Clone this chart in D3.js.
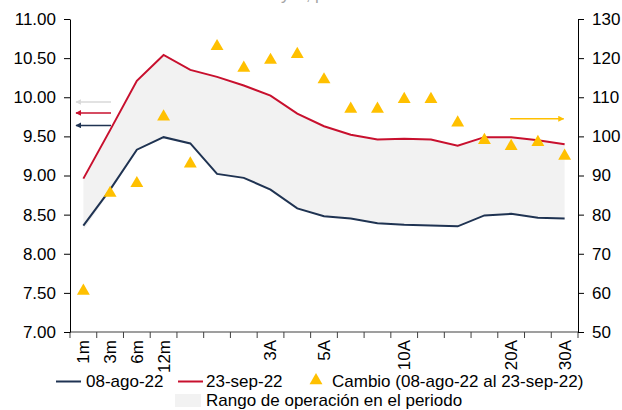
<!DOCTYPE html>
<html>
<head>
<meta charset="UTF-8">
<script src="https://cdn.jsdelivr.net/npm/d3@7"></script>
<style>
  body { margin: 0; background: #fff; }
  svg { font-family: "Liberation Sans", Arial, sans-serif; }
  .axis text { font-size: 17px; fill: #000; }
  .legend text { font-size: 17px; fill: #000; }
</style>
</head>
<body>
<svg width="622" height="410"></svg>
<script>
// plazos (las etiquetas vacias no se muestran en el eje)
var plazos = ["1m","3m","6m","12m","","","","3A","","5A","","","10A","","","","20A","","30A"];

// rendimientos, % (eje izq.)
var ago08 = [8.36, 8.82, 9.33, 9.49, 9.41, 9.02, 8.97, 8.82, 8.58, 8.48, 8.45, 8.39, 8.37, 8.36, 8.35, 8.49, 8.51, 8.46, 8.45];
var sep23 = [8.96, 9.58, 10.21, 10.54, 10.35, 10.26, 10.15, 10.02, 9.79, 9.63, 9.52, 9.46, 9.47, 9.46, 9.38, 9.49, 9.49, 9.45, 9.40];

// rango de operacion en el periodo, %
var rangoMin = [8.30, 8.80, 9.32, 9.49, 9.41, 9.02, 8.97, 8.82, 8.58, 8.48, 8.45, 8.39, 8.37, 8.36, 8.35, 8.49, 8.51, 8.46, 8.45];
var rangoMax = [8.96, 9.58, 10.21, 10.54, 10.35, 10.26, 10.15, 10.02, 9.79, 9.63, 9.52, 9.46, 9.47, 9.46, 9.38, 9.49, 9.49, 9.45, 9.40];

// cambio, pb (eje der.)
var cambio = [60.5, 85.5, 88.0, 105.0, 93.0, 123.0, 117.5, 119.5, 121.0, 114.5, 107.0, 107.0, 109.5, 109.5, 103.5, 99.0, 97.5, 98.5, 95.0];

var ticksIzq = [7, 7.5, 8, 8.5, 9, 9.5, 10, 10.5, 11];
var ticksDer = [50, 60, 70, 80, 90, 100, 110, 120, 130];

var cNavy = "#1f3352", cRojo = "#c8102e", cAmarillo = "#ffc000", cGris = "#f2f2f2";

var svg = d3.select("svg");
var mIzq = 70, mDer = 578, mSup = 19, mInf = 332;

var x = d3.scaleBand().domain(d3.range(plazos.length)).range([mIzq, mDer]);
var yL = d3.scaleLinear().domain([7, 11]).range([mInf, mSup]);
var yR = d3.scaleLinear().domain([50, 130]).range([mInf, mSup]);
var cx = function(i) { return x(i) + x.bandwidth() / 2; };

// titulo (cortado en la parte superior)
svg.append("text")
  .attr("x", 334).attr("y", 0)
  .attr("text-anchor", "end")
  .attr("font-size", "17px")
  .attr("fill", "#a6a6a6")
  .text("Curva de rendimiento en % y \u0394, pb");

// rango
var area = d3.area()
  .x(function(d, i) { return cx(i); })
  .y0(function(d, i) { return yL(rangoMin[i]); })
  .y1(function(d, i) { return yL(rangoMax[i]); });
svg.append("path").datum(plazos).attr("d", area).attr("fill", cGris);

// lineas
var linea = d3.line().x(function(d, i) { return cx(i); }).y(function(d) { return yL(d); });
svg.append("path").datum(ago08).attr("d", linea)
  .attr("fill", "none").attr("stroke", cNavy).attr("stroke-width", 2);
svg.append("path").datum(sep23).attr("d", linea)
  .attr("fill", "none").attr("stroke", cRojo).attr("stroke-width", 2);

// triangulos
var tri = d3.symbol().type(d3.symbolTriangle).size(72);
svg.append("g").selectAll("path")
  .data(cambio)
  .enter().append("path")
  .attr("d", tri)
  .attr("transform", function(d, i) { return "translate(" + cx(i) + "," + yR(d) + ")"; })
  .attr("fill", cAmarillo);

// ejes
var gx = svg.append("g").attr("class", "axis")
  .attr("transform", "translate(0," + mInf + ")");
gx.append("line").attr("x1", mIzq).attr("x2", mDer).attr("stroke", "#7f7f7f").attr("stroke-width", 1.3);
gx.selectAll(".tk").data(d3.range(plazos.length + 1)).enter().append("line")
  .attr("x1", function(i) { return mIzq + i * x.bandwidth(); })
  .attr("x2", function(i) { return mIzq + i * x.bandwidth(); })
  .attr("y1", 0).attr("y2", 6)
  .attr("stroke", "#404040");
gx.selectAll(".lbl").data(plazos).enter().append("text")
  .attr("transform", function(d, i) { return "translate(" + cx(i) + ",8) rotate(-90)"; })
  .attr("text-anchor", "end")
  .attr("dy", "0.35em")
  .text(function(d) { return d; });

svg.append("g").attr("class", "axis")
  .attr("transform", "translate(" + mIzq + ",0)")
  .call(d3.axisLeft(yL).tickValues(ticksIzq).tickFormat(d3.format(".2f")).tickSizeOuter(0).tickPadding(8))
  .call(function(g) { g.select(".domain").attr("stroke", "#000"); g.selectAll(".tick line").attr("stroke", "#000"); });

svg.append("g").attr("class", "axis")
  .attr("transform", "translate(" + mDer + ",0)")
  .call(d3.axisRight(yR).tickValues(ticksDer).tickSizeOuter(0).tickPadding(8))
  .call(function(g) { g.select(".domain").attr("stroke", "#000"); g.selectAll(".tick line").attr("stroke", "#000"); });

// flechas que indican el eje
var defs = svg.append("defs");
function punta(id, color) {
  defs.append("marker").attr("id", id)
    .attr("viewBox", "0 0 10 10").attr("refX", 9).attr("refY", 5)
    .attr("markerWidth", 4).attr("markerHeight", 4).attr("orient", "auto-start-reverse")
    .append("path").attr("d", "M0,0L10,5L0,10z").attr("fill", color);
}
punta("pGris", "#d9d9d9"); punta("pRojo", cRojo); punta("pNavy", cNavy); punta("pAmar", cAmarillo);

var flechasIzq = [[9.94, "#d9d9d9", "pGris"], [9.80, cRojo, "pRojo"], [9.64, cNavy, "pNavy"]];
flechasIzq.forEach(function(f) {
  svg.append("line")
    .attr("x1", mIzq + 41).attr("x2", mIzq + 6)
    .attr("y1", yL(f[0])).attr("y2", yL(f[0]))
    .attr("stroke", f[1]).attr("stroke-width", 1.5)
    .attr("marker-end", "url(#" + f[2] + ")");
});
svg.append("line")
  .attr("x1", cx(16) - 1).attr("x2", cx(18) - 1)
  .attr("y1", yR(104.5)).attr("y2", yR(104.5))
  .attr("stroke", cAmarillo).attr("stroke-width", 1.5)
  .attr("marker-end", "url(#pAmar)");

// leyenda
var ley = svg.append("g").attr("class", "legend");
ley.append("line").attr("x1", 56).attr("x2", 81).attr("y1", 381.5).attr("y2", 381.5).attr("stroke", cNavy).attr("stroke-width", 2);
ley.append("text").attr("x", 86).attr("y", 381.5).attr("dy", "0.35em").text("08-ago-22");
ley.append("line").attr("x1", 178).attr("x2", 203).attr("y1", 381.5).attr("y2", 381.5).attr("stroke", cRojo).attr("stroke-width", 2);
ley.append("text").attr("x", 206).attr("y", 381.5).attr("dy", "0.35em").text("23-sep-22");
ley.append("path").attr("d", tri).attr("transform", "translate(316,380.5)").attr("fill", cAmarillo);
ley.append("text").attr("x", 332).attr("y", 381.5).attr("dy", "0.35em").text("Cambio (08-ago-22 al 23-sep-22)");
ley.append("rect").attr("x", 175).attr("y", 394).attr("width", 26).attr("height", 13).attr("fill", cGris);
ley.append("text").attr("x", 206).attr("y", 400).attr("dy", "0.35em").text("Rango de operación en el periodo");
</script>
</body>
</html>
